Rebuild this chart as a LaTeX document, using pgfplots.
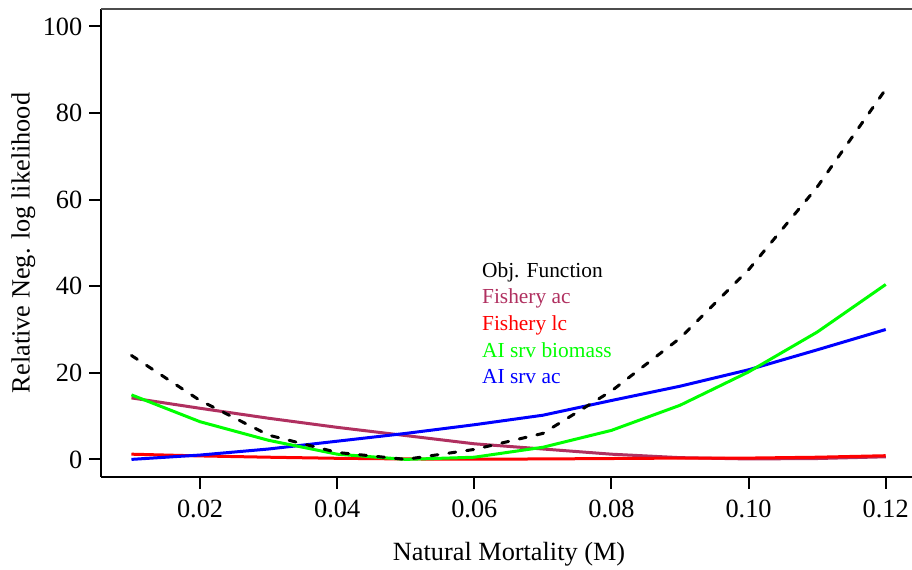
\documentclass[border=0pt]{standalone}
\usepackage{fontspec}
\setmainfont{Liberation Serif}
\usepackage{pgfplots}
\pgfplotsset{compat=1.18}
\definecolor{rmaroon}{HTML}{B03060}
\definecolor{rred}{HTML}{FF0000}
\definecolor{rgreen}{HTML}{00FF00}
\definecolor{rblue}{HTML}{0000FF}
\pgfplotstableread{
M      obj    fac    flc    aib    aiac
0.01   24.0   14.2   1.2    14.9   0.0
0.02   13.6   11.8   0.8    8.7    1.0
0.03   5.6    9.5    0.5    4.4    2.4
0.04   1.6    7.4    0.25   1.2    4.2
0.05   0.0    5.5    0.1    0.0    6.0
0.06   2.3    3.6    0.05   0.5    8.0
0.07   6.0    2.4    0.1    2.8    10.2
0.08   15.8   1.2    0.2    6.7    13.6
0.09   28.0   0.4    0.3    12.5   16.9
0.10   43.8   0.1    0.3    20.2   20.7
0.11   62.9   0.2    0.5    29.4   25.3
0.12   85.5   0.6    0.85   40.4   30.0
}\datatable
\begin{document}
\begin{tikzpicture}
\begin{axis}[name=ax, scale only axis, width=405.35pt, height=233.8pt,
  xmin=0.0056, xmax=0.12383, ymin=-4, ymax=104,
  axis x line*=bottom, axis y line*=left,
  axis line style={-, line width=1pt, black},
  xtick={0.02,0.04,0.06,0.08,0.10,0.12},
  ytick={0,20,40,60,80,100},
  tick align=outside, major tick length=6pt,
  tick style={line width=1pt, black},
  xticklabel style={yshift=-2pt, /pgf/number format/fixed, /pgf/number format/fixed zerofill, /pgf/number format/precision=2},
  /pgf/number format/assume math mode=true,
  tick label style={font=\fontsize{13.15}{15}\selectfont},
  label style={font=\fontsize{13.15}{15}\selectfont},
  xlabel={Natural Mortality (M)},
  ylabel={Relative Neg. log likelihood},
  x label style={at={(axis description cs:0.503,-0.165)}, anchor=center},
  y label style={at={(axis description cs:-0.0962,0.5)}, anchor=center, rotate=0},
  clip=false,
]
\addplot[rmaroon, line width=1.5pt, line join=round] table[x=M,y=fac]{\datatable};
\addplot[rred, line width=1.5pt, line join=round] table[x=M,y=flc]{\datatable};
\addplot[rblue, line width=1.5pt, line join=round] table[x=M,y=aiac]{\datatable};
\addplot[rgreen, line width=1.5pt, line join=round] table[x=M,y=aib]{\datatable};
\addplot[black, line width=1.5pt, line cap=round, dash pattern=on 3.5pt off 5.5pt] table[x=M,y=obj]{\datatable};
\draw[black!70, line width=1pt] (rel axis cs:0,1) -- (rel axis cs:1,1);
\begin{scope}[every node/.style={anchor=base west, inner sep=0pt, font=\fontsize{10.7}{12}\selectfont}]
\node[text=black] at (axis cs:0.06108,42.1) {Obj. Function};
\node[text=rmaroon] at (axis cs:0.06108,35.96) {Fishery ac};
\node[text=rred] at (axis cs:0.06108,29.8) {Fishery lc};
\node[text=rgreen] at (axis cs:0.06108,23.6) {AI srv biomass};
\node[text=rblue] at (axis cs:0.06108,17.5) {AI srv ac};
\end{scope}
\end{axis}
\pgfresetboundingbox
\path ([shift={(-50.65pt,-46.15pt)}]ax.south west) rectangle ([shift={(405.35pt,238.35pt)}]ax.south west);
\end{tikzpicture}
\end{document}
